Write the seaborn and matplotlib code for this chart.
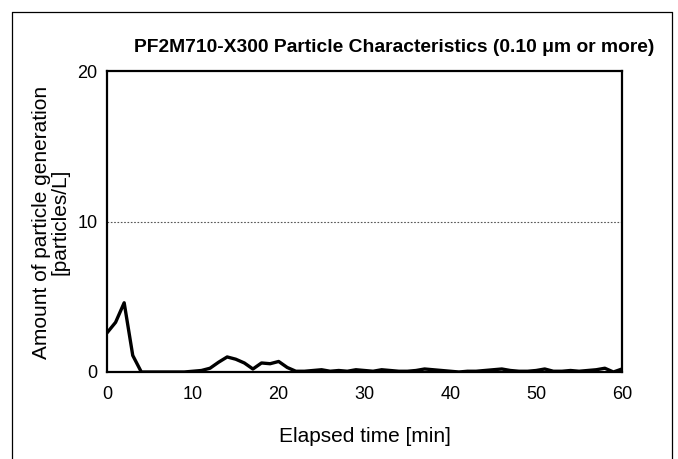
import matplotlib
matplotlib.use("Agg")
import matplotlib.pyplot as plt
import seaborn as sns
import pandas as pd
from matplotlib.lines import Line2D

minutes = list(range(0, 61))
particles = [2.6, 3.3, 4.6, 1.1, 0.0, 0.0, 0.0, 0.0, 0.0, 0.0,
             0.05, 0.1, 0.25, 0.65, 1.0, 0.85, 0.6, 0.2, 0.6, 0.55,
             0.7, 0.3, 0.05, 0.05, 0.1, 0.15, 0.05, 0.1, 0.05, 0.15,
             0.1, 0.05, 0.15, 0.1, 0.05, 0.05, 0.1, 0.2, 0.15, 0.1,
             0.05, 0.0, 0.05, 0.05, 0.1, 0.15, 0.2, 0.1, 0.05, 0.05,
             0.1, 0.2, 0.05, 0.05, 0.1, 0.05, 0.1, 0.15, 0.25, 0.0, 0.2]
x_ticks = [0, 10, 20, 30, 40, 50, 60]
y_ticks = [0, 10, 20]

sns.set_theme(style="white")
plt.rcParams['font.family'] = ['Liberation Sans', 'DejaVu Sans']
plt.rcParams['text.color'] = 'black'
plt.rcParams['xtick.color'] = 'black'
plt.rcParams['ytick.color'] = 'black'

df = pd.DataFrame({"min": minutes, "val": particles})

fig = plt.figure(figsize=(6.78, 4.59), dpi=100)
ax = fig.add_axes([107/678, 1-372/459, (622-107)/678, (372-71)/459])
sns.lineplot(data=df, x="min", y="val", ax=ax, color="black", linewidth=2.4)
ax.axhline(10, color="#555555", linestyle=(0, (1.5, 1.5)), linewidth=0.8, zorder=0)

ax.set_xlim(0, 60)
ax.set_ylim(0, 20)
ax.set_xticks(x_ticks)
ax.set_yticks(y_ticks)
ax.set_xticklabels([str(t) for t in x_ticks], fontsize=13)
ax.set_yticklabels([str(t) for t in y_ticks], fontsize=13)
ax.tick_params(axis="x", length=0, pad=10)
ax.tick_params(axis="y", length=0, pad=7)
for s in ax.spines.values():
    s.set_color("black")
    s.set_linewidth(1.6)
ax.set_xlabel("")
ax.set_ylabel("")

fig.text(365/678, 1-437/459, "Elapsed time [min]", ha="center", va="center", fontsize=15)
fig.text(51/678, 1-222/459, "Amount of particle generation\n[particles/L]", ha="center", va="center",
         rotation=90, fontsize=15, linespacing=0.95)
fig.text(394/678, 1-47/459, "PF2M710-X300 Particle Characteristics (0.10 μm or more)",
         ha="center", va="center", fontsize=13.9, fontweight="bold")

# outer frame (no bottom edge)
fx0, fx1, fy1 = 12/678, 672/678, 1-12/459
for xs, ys in [([fx0, fx0], [0, fy1]), ([fx1, fx1], [0, fy1]), ([fx0, fx1], [fy1, fy1])]:
    fig.add_artist(Line2D(xs, ys, color="black", linewidth=0.9, transform=fig.transFigure))

fig.savefig("out.png", dpi=100)
